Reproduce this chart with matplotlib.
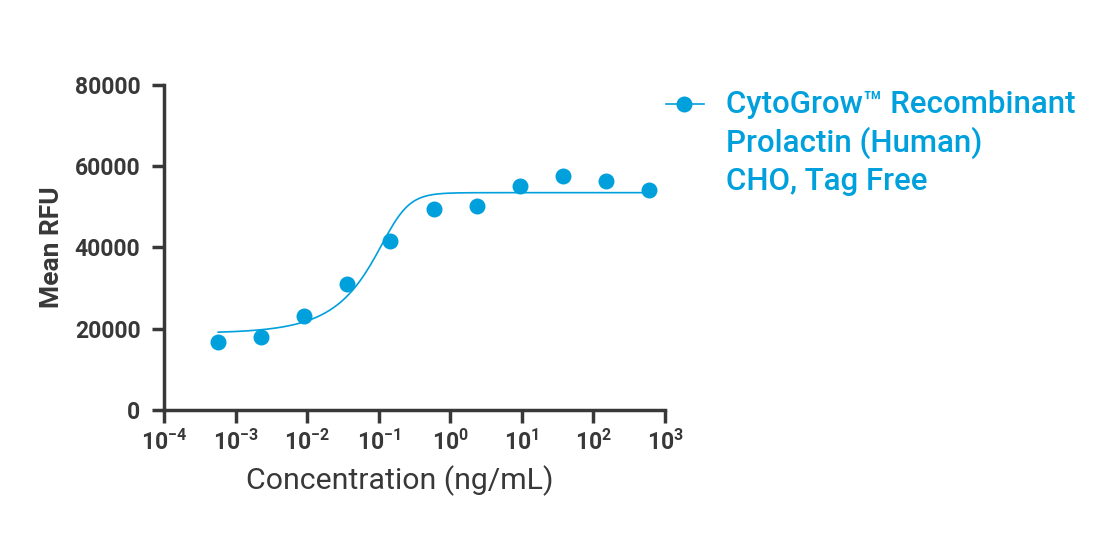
import numpy as np
import matplotlib
matplotlib.use("Agg")
import matplotlib.pyplot as plt
from matplotlib.lines import Line2D

# ---- data ----
concentration = [0.000572, 0.00229, 0.00916, 0.0366, 0.146, 0.586, 2.34, 9.375, 37.5, 150, 600]
mean_rfu = [16800, 18000, 23200, 31000, 41600, 49500, 50200, 55100, 57600, 56400, 54200]
# 5-parameter logistic fit parameters
fit_bottom = 18900
fit_top = 53500
fit_log_ec = -0.77
fit_hill = 2.6
fit_asym = 0.33
x_ticks = [1e-4, 1e-3, 1e-2, 1e-1, 1e0, 1e1, 1e2, 1e3]
x_tick_labels = ["$10^{-4}$", "$10^{-3}$", "$10^{-2}$", "$10^{-1}$", "$10^{0}$", "$10^{1}$", "$10^{2}$", "$10^{3}$"]
y_ticks = [0, 20000, 40000, 60000, 80000]
series_label = "CytoGrow\u2122 Recombinant\nProlactin (Human)\nCHO, Tag Free"

BLUE = "#00A0DC"
DARK = "#383838"

plt.rcParams["font.family"] = ["Roboto", "DejaVu Sans"]
plt.rcParams["mathtext.fontset"] = "custom"
plt.rcParams["mathtext.rm"] = "Roboto:bold"
plt.rcParams["mathtext.it"] = "Roboto:bold"
plt.rcParams["mathtext.bf"] = "Roboto:bold"
plt.rcParams["mathtext.default"] = "rm"

fig = plt.figure(figsize=(11.04, 5.34), dpi=100)
ax = fig.add_axes([164 / 1104, 1 - 410 / 534, (665 - 164) / 1104, (410 - 85) / 534])

xs = np.logspace(np.log10(concentration[0]), np.log10(concentration[-1]), 400)
u = np.log10(xs) - fit_log_ec
ys = fit_bottom + (fit_top - fit_bottom) / (1 + 10 ** (-fit_hill * u)) ** fit_asym
ax.plot(xs, ys, color=BLUE, lw=1.2, zorder=2)
ax.plot(concentration, mean_rfu, "o", color=BLUE, ms=11.5, mec="none", zorder=3, clip_on=False)

ax.set_xscale("log")
ax.set_xlim(1e-4, 1e3)
ax.set_ylim(0, 80000)
ax.set_xticks(x_ticks)
ax.set_xticklabels(x_tick_labels)
ax.minorticks_off()
ax.set_yticks(y_ticks)
ax.set_yticklabels([str(v) for v in y_ticks])

for s in ["top", "right"]:
    ax.spines[s].set_visible(False)
for s in ["left", "bottom"]:
    ax.spines[s].set_linewidth(2.5)
    ax.spines[s].set_color(DARK)
ax.tick_params(axis="both", direction="out", length=9, width=2.5, color=DARK,
               labelcolor=DARK, labelsize=16.5)
ax.tick_params(axis="y", pad=8)
ax.tick_params(axis="x", pad=5)
for lab in ax.get_yticklabels():
    lab.set_fontweight("bold")

ax.set_ylabel("Mean RFU", fontsize=19, fontweight="bold", color=DARK, labelpad=8)
ax.set_xlabel("Concentration (ng/mL)", fontsize=21.8, color=DARK)
ax.xaxis.set_label_coords((400 - 164) / 501, -0.17)
ax.xaxis.label.set_va("top")

# legend
fig.add_artist(Line2D([666 / 1104, 704 / 1104], [1 - 104 / 534, 1 - 104 / 534],
                      color=BLUE, lw=1.2, transform=fig.transFigure))
fig.add_artist(Line2D([684 / 1104], [1 - 104 / 534], marker="o", ms=11.5, color=BLUE,
                      mec="none", transform=fig.transFigure))
fig.text(726 / 1104, 1 - 90 / 534, series_label, color=BLUE, fontsize=22.5,
         fontweight=500, va="top", ha="left", linespacing=1.32)

fig.savefig("out.png", dpi=100, facecolor="white")
